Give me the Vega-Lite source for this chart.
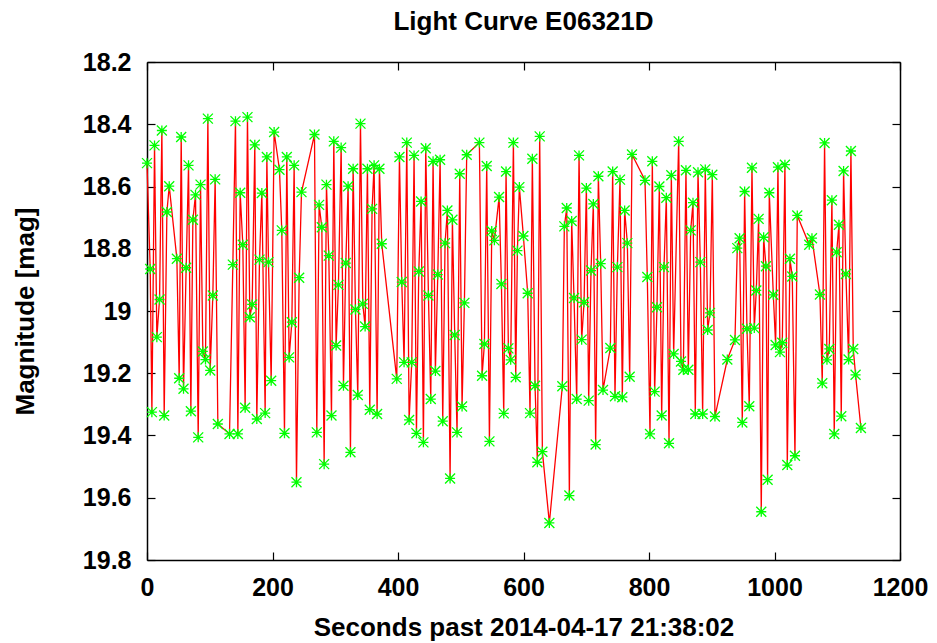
{
  "$schema": "https://vega.github.io/schema/vega-lite/v6.json",
  "width": 753,
  "height": 498,
  "autosize": {"type": "none"},
  "padding": {"left": 147, "top": 62, "right": 37, "bottom": 83},
  "background": "white",
  "title": {"text": "Light Curve E06321D", "fontSize": 26, "fontWeight": "bold", "font": "Liberation Sans", "color": "black", "baseline": "alphabetic", "offset": -6, "anchor": "middle", "frame": "group"},
  "config": {
    "view": {"stroke": null},
    "axis": {"labelFont": "Liberation Sans", "titleFont": "Liberation Sans", "labelFontWeight": "bold", "titleFontWeight": "bold", "labelFontSize": 25, "titleFontSize": 26, "labelColor": "black", "titleColor": "black", "tickColor": "black", "domainColor": "black", "domainWidth": 1.5, "tickWidth": 1.2, "grid": false, "tickSize": -8, "labelFlush": false}
  },
  "data": {"values": [
    {"t":0,"m":18.525},{"t":5.1,"m":18.865},{"t":7.8,"m":19.325},{"t":12.0,"m":18.468},{"t":15.7,"m":19.084},{"t":20.0,"m":18.963},{"t":23.7,"m":18.420},{"t":27.4,"m":19.336},{"t":31.7,"m":18.682},{"t":35.4,"m":18.599},
    {"t":47.6,"m":18.832},{"t":51.3,"m":19.216},{"t":54.5,"m":18.441},{"t":58.2,"m":19.250},{"t":62.4,"m":18.861},{"t":66.2,"m":18.532},{"t":69.9,"m":19.322},{"t":73.1,"m":18.707},{"t":77.3,"m":18.627},{"t":81.6,"m":19.406},
    {"t":85.3,"m":18.594},{"t":89.0,"m":19.130},{"t":93.2,"m":19.156},{"t":97.0,"m":18.382},{"t":100.7,"m":19.191},{"t":104.9,"m":18.950},{"t":108.6,"m":18.577},{"t":112.9,"m":19.363},{"t":131.5,"m":19.395},{"t":136.8,"m":18.851},
    {"t":141.0,"m":18.390},{"t":144.8,"m":19.395},{"t":148.5,"m":18.620},{"t":152.7,"m":18.787},{"t":156.4,"m":19.311},{"t":160.1,"m":18.377},{"t":163.9,"m":19.020},{"t":167.6,"m":18.979},{"t":171.8,"m":18.466},{"t":175.0,"m":19.347},
    {"t":179.3,"m":18.835},{"t":183.0,"m":18.621},{"t":188.3,"m":19.328},{"t":191.0,"m":18.505},{"t":193.6,"m":18.843},{"t":197.9,"m":19.224},{"t":202.6,"m":18.425},{"t":211.1,"m":18.546},{"t":214.8,"m":18.741},{"t":219.1,"m":19.393},
    {"t":222.8,"m":18.505},{"t":226.5,"m":19.149},{"t":230.8,"m":19.036},{"t":234.5,"m":18.532},{"t":238.2,"m":19.550},{"t":242.5,"m":18.893},{"t":246.2,"m":18.618},{"t":266.9,"m":18.433},{"t":270.6,"m":19.390},{"t":274.3,"m":18.659},
    {"t":278.6,"m":18.731},{"t":282.3,"m":19.492},{"t":286.0,"m":18.594},{"t":289.7,"m":18.822},{"t":294.0,"m":19.336},{"t":297.7,"m":18.455},{"t":301.4,"m":19.111},{"t":305.1,"m":18.916},{"t":309.4,"m":18.475},{"t":313.1,"m":19.240},
    {"t":316.8,"m":18.846},{"t":320.5,"m":18.599},{"t":324.2,"m":19.454},{"t":328.5,"m":18.543},{"t":332.2,"m":18.995},{"t":335.9,"m":19.270},{"t":340.2,"m":18.398},{"t":343.9,"m":18.977},{"t":347.6,"m":19.050},{"t":351.3,"m":18.543},
    {"t":355.0,"m":19.317},{"t":358.7,"m":18.672},{"t":361.9,"m":18.532},{"t":366.7,"m":19.331},{"t":370.4,"m":18.543},{"t":374.1,"m":18.784},{"t":398.0,"m":19.218},{"t":402.3,"m":18.505},{"t":406.0,"m":18.907},{"t":409.7,"m":19.165},
    {"t":414.0,"m":18.459},{"t":417.7,"m":19.350},{"t":421.9,"m":19.165},{"t":425.6,"m":18.500},{"t":429.4,"m":19.393},{"t":433.1,"m":18.873},{"t":436.8,"m":18.648},{"t":440.5,"m":19.422},{"t":444.2,"m":18.477},{"t":448.5,"m":18.950},
    {"t":452.2,"m":19.283},{"t":455.9,"m":18.519},{"t":459.6,"m":19.193},{"t":463.4,"m":18.883},{"t":467.1,"m":18.514},{"t":471.3,"m":19.354},{"t":475.0,"m":18.782},{"t":478.7,"m":18.677},{"t":483.0,"m":19.538},{"t":486.7,"m":18.707},
    {"t":490.4,"m":19.077},{"t":494.1,"m":19.390},{"t":498.4,"m":18.559},{"t":502.1,"m":19.307},{"t":505.8,"m":18.974},{"t":509.5,"m":18.498},{"t":529.7,"m":18.459},{"t":534.0,"m":19.208},{"t":537.7,"m":19.106},{"t":541.4,"m":18.534},
    {"t":545.7,"m":19.419},{"t":549.4,"m":18.743},{"t":553.6,"m":18.773},{"t":561.1,"m":18.634},{"t":564.8,"m":18.913},{"t":568.5,"m":19.329},{"t":572.2,"m":18.552},{"t":575.9,"m":19.120},{"t":579.6,"m":19.157},{"t":583.9,"m":18.459},
    {"t":587.6,"m":19.213},{"t":590.3,"m":18.806},{"t":593.4,"m":18.602},{"t":599.8,"m":18.759},{"t":606.7,"m":18.943},{"t":610.4,"m":19.328},{"t":614.1,"m":18.511},{"t":618.4,"m":19.240},{"t":622.1,"m":19.486},{"t":625.8,"m":18.439},
    {"t":630.1,"m":19.452},{"t":641.2,"m":19.681},{"t":661.9,"m":19.242},{"t":665.1,"m":18.728},{"t":668.9,"m":18.669},{"t":673.1,"m":19.593},{"t":676.8,"m":18.711},{"t":680.5,"m":18.958},{"t":684.8,"m":19.283},{"t":688.5,"m":18.500},
    {"t":692.7,"m":19.092},{"t":696.5,"m":18.972},{"t":700.2,"m":18.605},{"t":703.9,"m":19.288},{"t":707.6,"m":18.870},{"t":711.3,"m":18.656},{"t":715.0,"m":19.429},{"t":719.3,"m":18.567},{"t":723.0,"m":18.848},{"t":726.7,"m":19.254},
    {"t":738.4,"m":19.119},{"t":742.1,"m":18.552},{"t":745.8,"m":19.274},{"t":749.6,"m":18.859},{"t":753.8,"m":18.578},{"t":757.5,"m":19.277},{"t":761.2,"m":18.677},{"t":765.5,"m":18.782},{"t":769.2,"m":19.211},{"t":772.9,"m":18.497},
    {"t":793.6,"m":18.580},{"t":797.3,"m":18.891},{"t":801.6,"m":19.395},{"t":805.3,"m":18.519},{"t":809.0,"m":19.259},{"t":812.7,"m":18.988},{"t":816.5,"m":18.600},{"t":820.2,"m":19.336},{"t":823.9,"m":18.859},{"t":827.6,"m":18.636},
    {"t":831.9,"m":19.425},{"t":835.6,"m":18.564},{"t":839.3,"m":19.138},{"t":847.3,"m":18.455},{"t":851.0,"m":19.162},{"t":854.7,"m":19.189},{"t":858.9,"m":18.548},{"t":862.7,"m":19.189},{"t":866.4,"m":18.741},{"t":870.1,"m":18.652},
    {"t":873.8,"m":19.331},{"t":878.1,"m":18.554},{"t":881.8,"m":18.843},{"t":885.5,"m":19.331},{"t":889.7,"m":18.545},{"t":893.5,"m":19.061},{"t":897.2,"m":19.006},{"t":900.9,"m":18.562},{"t":905.1,"m":19.339},{"t":924.8,"m":19.156},
    {"t":937.0,"m":19.093},{"t":940.7,"m":18.798},{"t":944.4,"m":18.766},{"t":948.7,"m":19.358},{"t":952.4,"m":18.616},{"t":956.1,"m":19.057},{"t":959.8,"m":19.306},{"t":964.1,"m":18.540},{"t":967.8,"m":19.055},{"t":971.0,"m":18.934},
    {"t":974.7,"m":18.704},{"t":978.9,"m":19.645},{"t":982.7,"m":18.763},{"t":986.4,"m":18.856},{"t":989.0,"m":19.542},{"t":991.7,"m":18.620},{"t":998.1,"m":18.948},{"t":1001.8,"m":19.109},{"t":1005.5,"m":18.538},{"t":1008.7,"m":19.132},
    {"t":1012.4,"m":19.102},{"t":1016.6,"m":18.530},{"t":1020.4,"m":19.495},{"t":1024.6,"m":18.832},{"t":1028.3,"m":18.889},{"t":1032.6,"m":19.465},{"t":1036.3,"m":18.693},{"t":1055.4,"m":18.787},{"t":1059.7,"m":18.766},{"t":1072.4,"m":18.947},
    {"t":1076.1,"m":19.232},{"t":1079.8,"m":18.460},{"t":1083.6,"m":19.157},{"t":1087.3,"m":19.122},{"t":1091.5,"m":18.644},{"t":1095.2,"m":19.395},{"t":1099.0,"m":18.811},{"t":1102.7,"m":18.723},{"t":1106.4,"m":19.338},{"t":1110.1,"m":18.550},
    {"t":1113.8,"m":18.881},{"t":1118.1,"m":19.156},{"t":1121.8,"m":18.486},{"t":1125.5,"m":19.122},{"t":1129.2,"m":19.205},{"t":1137.7,"m":19.376}
  ]},
  "resolve": {"axis": {"x": "independent", "y": "independent"}},
  "layer": [
    {
      "mark": {"type": "line", "color": "#ff0000", "strokeWidth": 1.3},
      "encoding": {
        "x": {"field": "t", "type": "quantitative", "scale": {"domain": [0, 1200], "nice": false, "zero": false},
              "axis": {"orient": "bottom", "values": [0, 200, 400, 600, 800, 1000, 1200], "format": "d", "labelPadding": 23, "labelBaseline": "top", "title": "Seconds past 2014-04-17 21:38:02", "titleX": 376.5, "titleY": 75, "titleBaseline": "alphabetic", "titleAlign": "center"}},
        "y": {"field": "m", "type": "quantitative", "scale": {"domain": [18.2, 19.8], "nice": false, "zero": false, "reverse": true},
              "axis": {"orient": "left", "values": [18.2, 18.4, 18.6, 18.8, 19, 19.2, 19.4, 19.6, 19.8], "format": "~f", "labelPadding": 24, "labelAlign": "right", "labelBaseline": "middle", "title": "Magnitude [mag]", "titleX": -114, "titleY": 249, "titleAngle": 270, "titleBaseline": "alphabetic", "titleAlign": "center"}}
      }
    },
    {
      "mark": {"type": "point", "shape": "M-1,0L1,0M0,-1L0,1M-1,-1L1,1M-1,1L1,-1", "filled": false, "stroke": "#00ff00", "strokeWidth": 1.3, "size": 100, "opacity": 1},
      "encoding": {
        "x": {"field": "t", "type": "quantitative", "scale": {"domain": [0, 1200], "nice": false, "zero": false},
              "axis": {"orient": "top", "values": [0, 200, 400, 600, 800, 1000, 1200], "labels": false, "title": null}},
        "y": {"field": "m", "type": "quantitative", "scale": {"domain": [18.2, 19.8], "nice": false, "zero": false, "reverse": true},
              "axis": {"orient": "right", "values": [18.2, 18.4, 18.6, 18.8, 19, 19.2, 19.4, 19.6, 19.8], "labels": false, "title": null}}
      }
    }
  ]
}
